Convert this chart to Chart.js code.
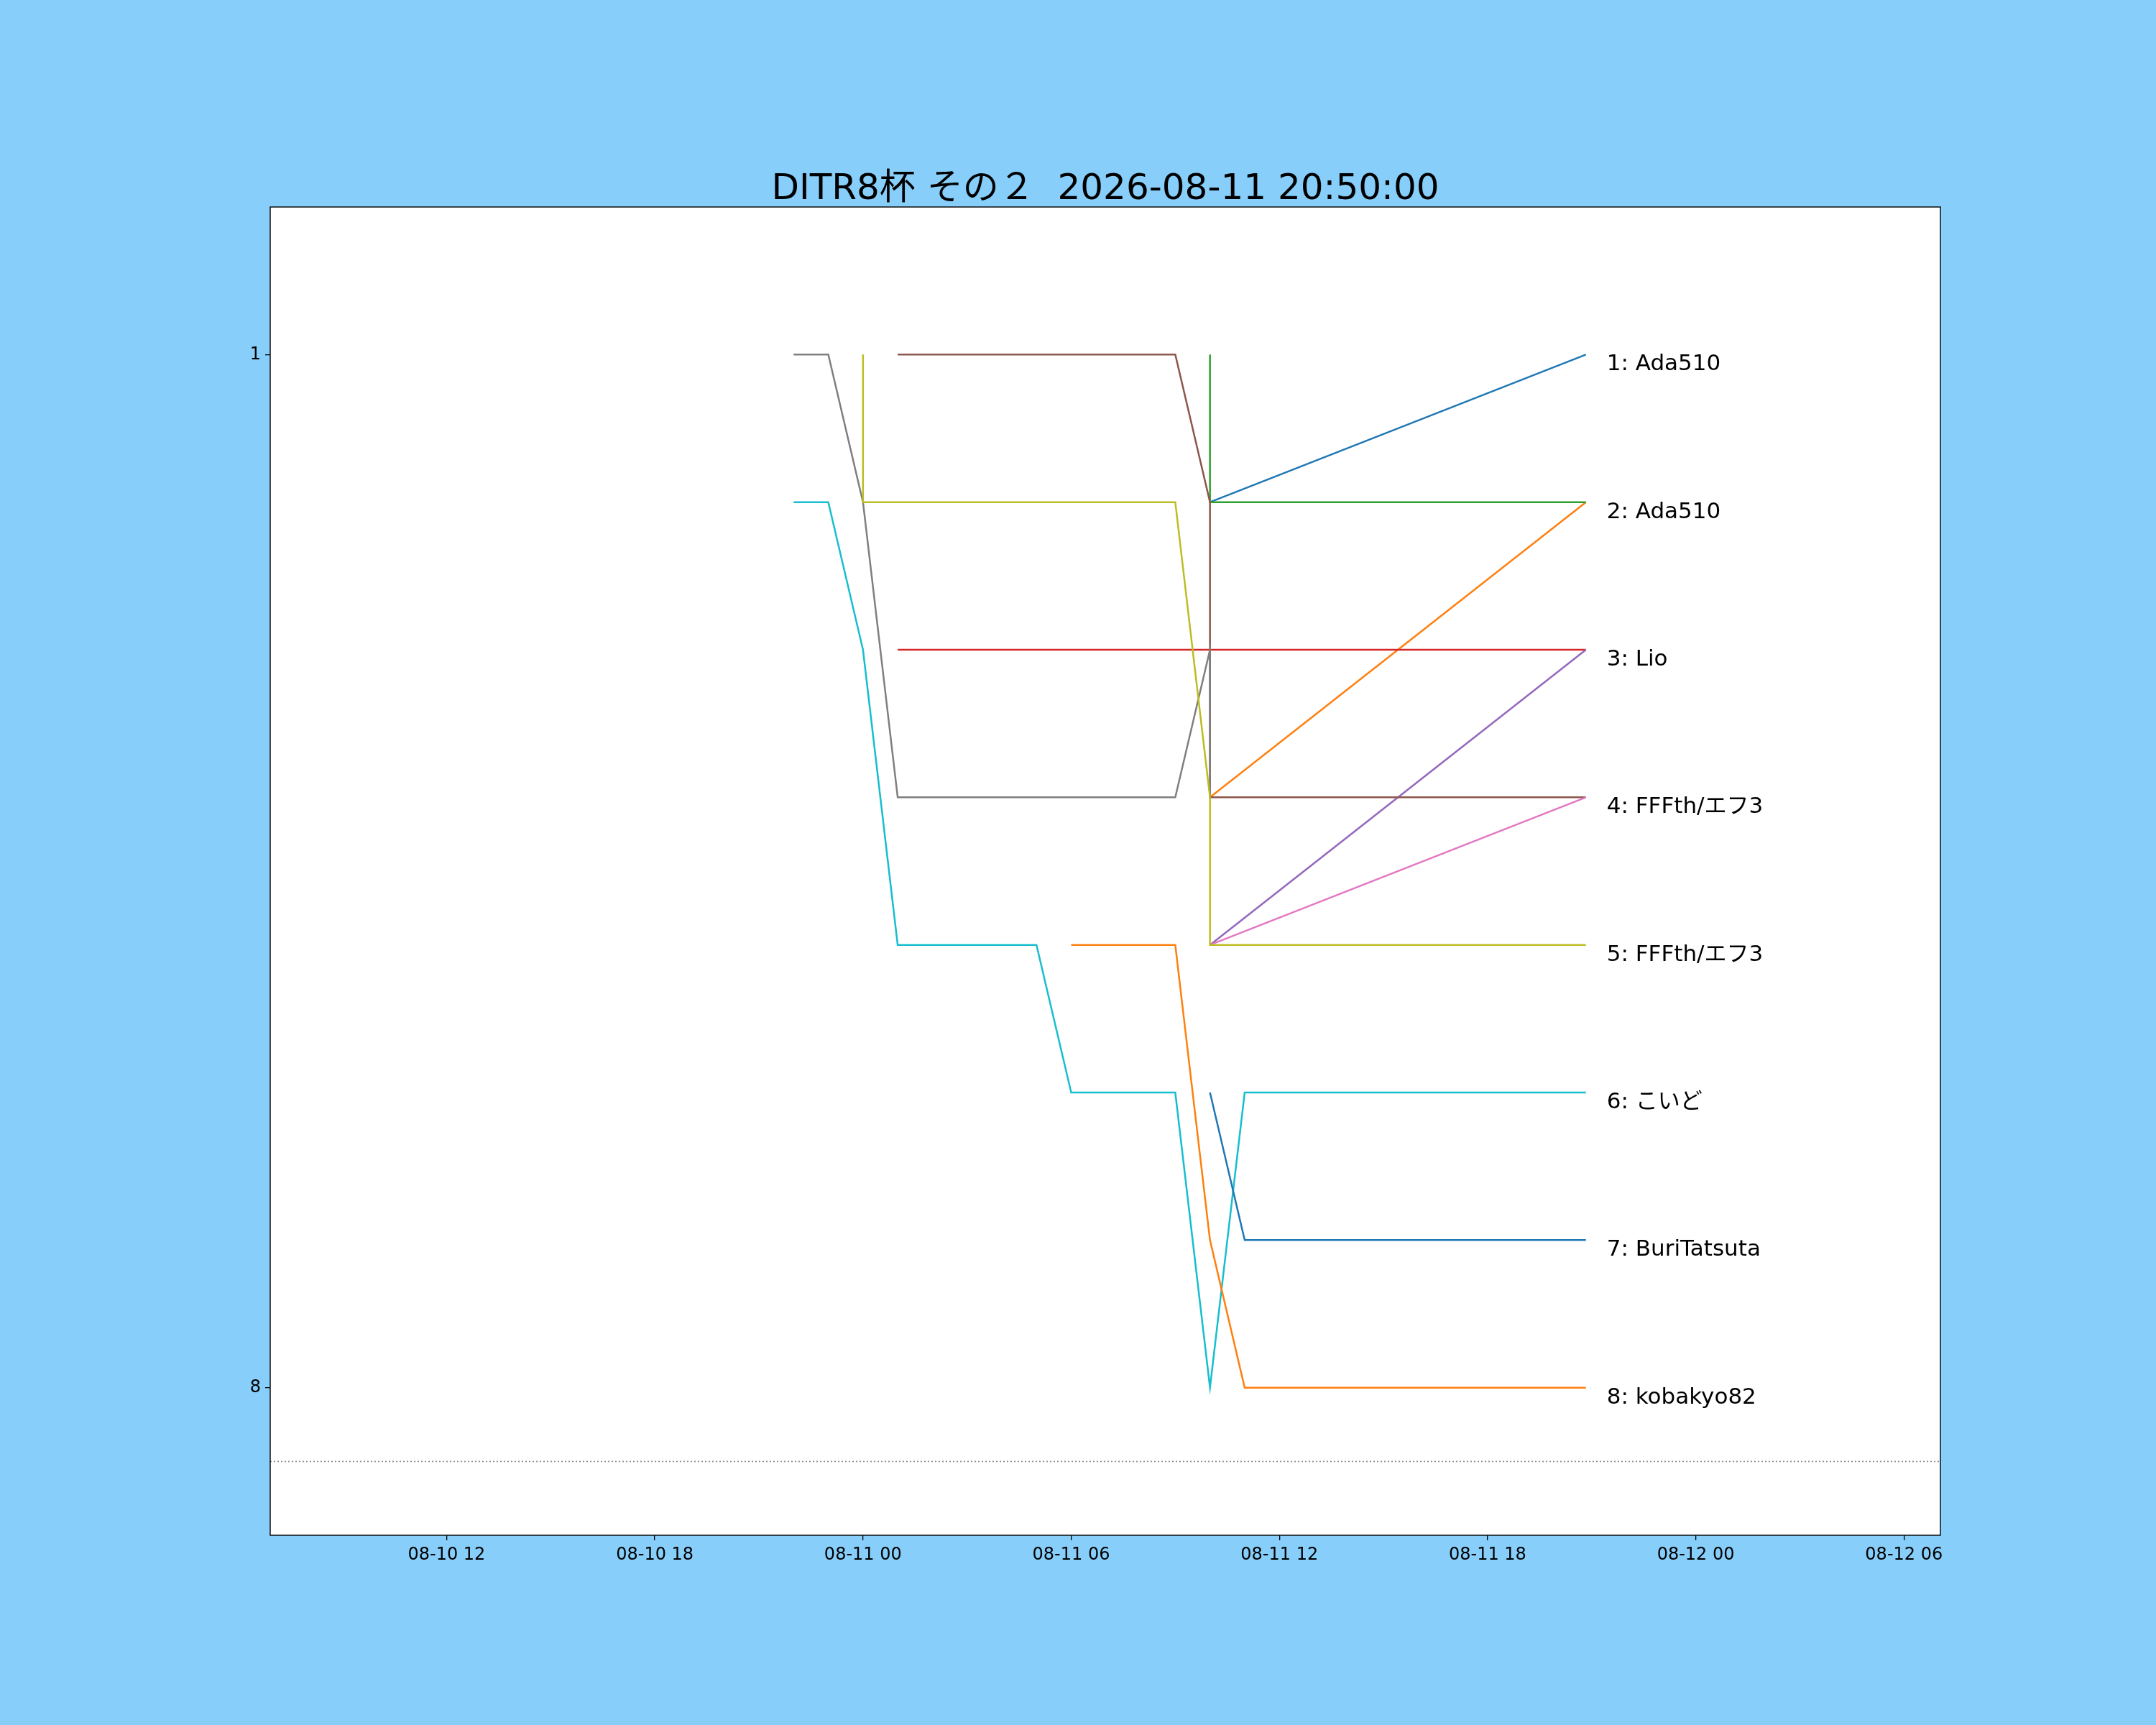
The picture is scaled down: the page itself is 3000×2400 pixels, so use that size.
<!DOCTYPE html>
<html>
<head>
<meta charset="utf-8">
<script src="https://cdn.jsdelivr.net/npm/chart.js@4.4.1/dist/chart.umd.min.js"></script>
<style>
  body { margin: 0; background: #87cefa; }
  #wrap { width: 3000px; height: 2400px; }
</style>
</head>
<body>
<div id="wrap"><canvas id="rank-chart" width="3000" height="2400"></canvas></div>
<script>
// Title
var chartTitle = 'DITR8杯 その２  2026-08-11 20:50:00';

// Rank of each entry over time: [time, rank]
var entry01 = [['2026-08-11 10:00', 2], ['2026-08-11 20:50', 1]];
var entry02 = [['2026-08-11 10:00', 4], ['2026-08-11 20:50', 2]];
var entry03 = [['2026-08-11 10:00', 1], ['2026-08-11 10:00', 2], ['2026-08-11 20:50', 2]];
var entry04 = [['2026-08-11 01:00', 3], ['2026-08-11 20:50', 3]];
var entry05 = [['2026-08-11 10:00', 5], ['2026-08-11 20:50', 3]];
var entry06 = [['2026-08-11 01:00', 1], ['2026-08-11 09:00', 1], ['2026-08-11 10:00', 2], ['2026-08-11 10:00', 4], ['2026-08-11 20:50', 4]];
var entry07 = [['2026-08-11 10:00', 5], ['2026-08-11 20:50', 4]];
var entry08 = [['2026-08-10 22:00', 1], ['2026-08-10 23:00', 1], ['2026-08-11 00:00', 2], ['2026-08-11 01:00', 4], ['2026-08-11 09:00', 4], ['2026-08-11 10:00', 3], ['2026-08-11 10:00', 4]];
var entry09 = [['2026-08-11 00:00', 1], ['2026-08-11 00:00', 2], ['2026-08-11 09:00', 2], ['2026-08-11 10:00', 4], ['2026-08-11 10:00', 5], ['2026-08-11 20:50', 5]];
var entry10 = [['2026-08-10 22:00', 2], ['2026-08-10 23:00', 2], ['2026-08-11 00:00', 3], ['2026-08-11 01:00', 5], ['2026-08-11 05:00', 5], ['2026-08-11 06:00', 6], ['2026-08-11 09:00', 6], ['2026-08-11 10:00', 8], ['2026-08-11 11:00', 6], ['2026-08-11 20:50', 6]];
var entry11 = [['2026-08-11 10:00', 6], ['2026-08-11 11:00', 7], ['2026-08-11 20:50', 7]];
var entry12 = [['2026-08-11 06:00', 5], ['2026-08-11 09:00', 5], ['2026-08-11 10:00', 7], ['2026-08-11 11:00', 8], ['2026-08-11 20:50', 8]];
var entries = [entry01, entry02, entry03, entry04, entry05, entry06, entry07, entry08, entry09, entry10, entry11, entry12];

// Final standings shown at the right end
var finalTime = '2026-08-11 20:50';
var finalRanks = [1, 2, 3, 4, 5, 6, 7, 8];
var finalNames = ['1: Ada510', '2: Ada510', '3: Lio', '4: FFFth/エフ3', '5: FFFth/エフ3', '6: こいど', '7: BuriTatsuta', '8: kobakyo82'];

// Cut-off line under the last prize rank
var cutoffRank = 8.5;

// Axes
var xStart = '2026-08-10 06:55';
var xEnd = '2026-08-12 07:03';
var xTickTimes = ['2026-08-10 12:00', '2026-08-10 18:00', '2026-08-11 00:00', '2026-08-11 06:00', '2026-08-11 12:00', '2026-08-11 18:00', '2026-08-12 00:00', '2026-08-12 06:00'];
var xTickLabels = ['08-10 12', '08-10 18', '08-11 00', '08-11 06', '08-11 12', '08-11 18', '08-12 00', '08-12 06'];
var yTicks = [1, 8];
var yMin = 0, yMax = 9;

var palette = ['#1f77b4', '#ff7f0e', '#2ca02c', '#d62728', '#9467bd', '#8c564b', '#e377c2', '#7f7f7f', '#bcbd22', '#17becf'];
var textFont = '"DejaVu Sans", "Noto Sans CJK JP"';

// hours from 2026-08-11 00:00
var baseMs = Date.UTC(2026, 7, 11);
function toHours(s) {
  return (Date.parse(s.replace(' ', 'T') + ':00Z') - baseMs) / 3600000;
}

var datasets = entries.map(function(entry, i) {
  return {
    data: entry.map(function(p) { return {x: toHours(p[0]), y: p[1]}; }),
    borderColor: palette[i % palette.length],
    borderWidth: 2.5,
    pointRadius: 0,
    tension: 0,
    fill: false,
    borderJoinStyle: 'miter',
    order: entries.length - i
  };
});
datasets.push({
  data: [{x: toHours(xStart), y: cutoffRank}, {x: toHours(xEnd), y: cutoffRank}],
  borderColor: '#8a8a8a',
  borderWidth: 1.6,
  borderDash: [2, 3],
  pointRadius: 0,
  fill: false,
  order: 100
});

// white plot area, frame, title and end labels
var decorations = {
  id: 'decorations',
  beforeDraw: function(chart) {
    var a = chart.chartArea, ctx = chart.ctx;
    ctx.save();
    ctx.fillStyle = '#ffffff';
    ctx.fillRect(a.left, a.top, a.right - a.left, a.bottom - a.top);
    ctx.restore();
  },
  afterDraw: function(chart) {
    var a = chart.chartArea, ctx = chart.ctx;
    var xs = chart.scales.x, ys = chart.scales.y;
    ctx.save();
    ctx.strokeStyle = '#000';
    ctx.lineWidth = 1.4;
    ctx.strokeRect(a.left, a.top, a.right - a.left, a.bottom - a.top);

    ctx.fillStyle = '#000';
    ctx.font = '50px ' + textFont;
    ctx.textAlign = 'center';
    ctx.textBaseline = 'alphabetic';
    ctx.fillText(chartTitle, (a.left + a.right) / 2, a.top - 11);

    ctx.font = '31px ' + textFont;
    ctx.textAlign = 'left';
    var lx = xs.getPixelForValue(toHours(finalTime)) + 29;
    finalNames.forEach(function(name, i) {
      ctx.fillText(name, lx, ys.getPixelForValue(finalRanks[i]) + 22);
    });
    ctx.restore();
  }
};

var rankChart = new Chart(document.getElementById('rank-chart').getContext('2d'), {
  type: 'line',
  data: { datasets: datasets },
  plugins: [decorations],
  options: {
    responsive: false,
    devicePixelRatio: 1,
    animation: false,
    layout: { padding: { top: 288, right: 300, left: 0, bottom: 0 } },
    plugins: { legend: { display: false }, tooltip: { enabled: false }, title: { display: false } },
    scales: {
      x: {
        type: 'linear',
        min: toHours(xStart),
        max: toHours(xEnd),
        afterBuildTicks: function(scale) {
          scale.ticks = xTickTimes.map(function(t) { return {value: toHours(t)}; });
        },
        afterFit: function(scale) { scale.height = 264; },
        grid: { drawOnChartArea: false, tickLength: 7, color: '#000', lineWidth: 1.3 },
        border: { display: false },
        ticks: {
          autoSkip: false,
          maxRotation: 0,
          padding: 6,
          color: '#000',
          font: { family: 'DejaVu Sans', size: 24 },
          callback: function(value, index) { return xTickLabels[index]; }
        }
      },
      y: {
        type: 'linear',
        min: yMin,
        max: yMax,
        reverse: true,
        afterBuildTicks: function(scale) {
          scale.ticks = yTicks.map(function(v) { return {value: v}; });
        },
        afterFit: function(scale) { scale.width = 376; },
        grid: { drawOnChartArea: false, tickLength: 7, color: '#000', lineWidth: 1.3 },
        border: { display: false },
        ticks: {
          padding: 6,
          color: '#000',
          font: { family: 'DejaVu Sans', size: 24 },
          callback: function(value) { return String(value); }
        }
      }
    }
  }
});
</script>
</body>
</html>
